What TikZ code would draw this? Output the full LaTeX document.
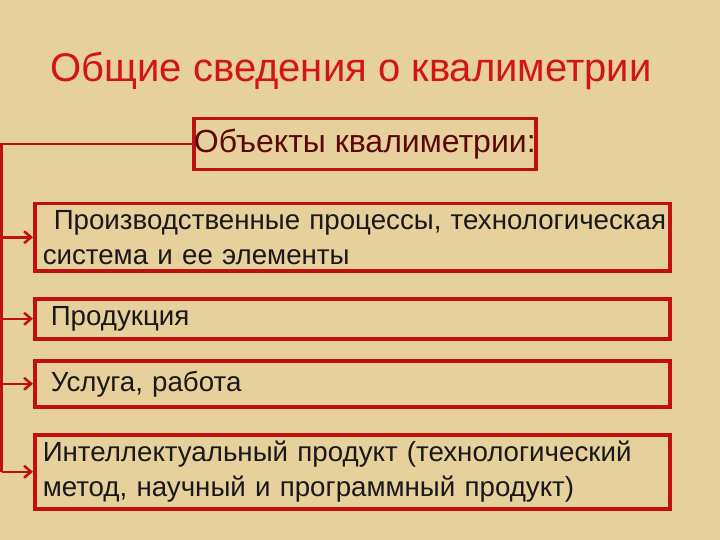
\documentclass[tikz,border=0pt]{standalone}
\usepackage{fontspec}
\setmainfont{Liberation Sans}
\usetikzlibrary{arrows.meta}
\usetikzlibrary{positioning}
\definecolor{parchment}{HTML}{E6D09C}
\definecolor{boxred}{HTML}{C01010}
\definecolor{titlered}{HTML}{D41515}
\definecolor{headtext}{HTML}{5C0808}
\tikzset{
	objbox/.style = {draw = boxred, line width = 3.5pt, anchor = north west, rectangle,
		minimum width = 635pt, text width = 619pt, inner xsep = 8pt, align = left,
		font = \fontsize{27.7}{35}\selectfont, text = black!90},
	headbox/.style = {draw = boxred, line width = 3.5pt, anchor = north west, rectangle,
		minimum width = 342pt, minimum height = 51pt, inner sep = 0pt,
		font = \fontsize{32}{36}\selectfont, text = headtext},
	link/.style = {draw = boxred, line width = 2.5pt},
	arr/.style = {link, -{Straight Barb[length=7pt, width=12pt, line width=2.5pt]}}
}
\begin{document}
\begin{tikzpicture}[x=1pt, y=-1pt]

					\fill[parchment] (0,0) rectangle (720,540);
					\useasboundingbox (0,0) rectangle (720,540);

					\node[text = titlered, font = \fontsize{40}{46}\selectfont] (title) at (351,71) {Общие сведения о квалиметрии};

					\node[headbox] (head) at (192,117) {Объекты квалиметрии:};

					\node[objbox, minimum height = 67pt] (b1) at (33,202) {\mbox{\hspace*{11pt}Производственные процессы, технологическая}\\система и ее элементы};
					\node[objbox, minimum height = 40pt] (b2) at (33,297) {\hspace*{8pt}Продукция};
					\node[objbox, minimum height = 46pt] (b3) at (33,359) {\hspace*{8pt}Услуга, работа};
					\node[objbox, minimum height = 74pt] (b4) at (33,433) {Интеллектуальный продукт (технологический\\метод, научный и программный продукт)};

					\coordinate (spine) at (1.5,0);
					\draw[link] (head.west) -- (head.west -| spine) -- (spine |- b4.west);

					\foreach \b in {b1, b2, b3, b4}
						\draw[arr] (spine |- \b.west) -- (\b.west);

\end{tikzpicture}
\end{document}
